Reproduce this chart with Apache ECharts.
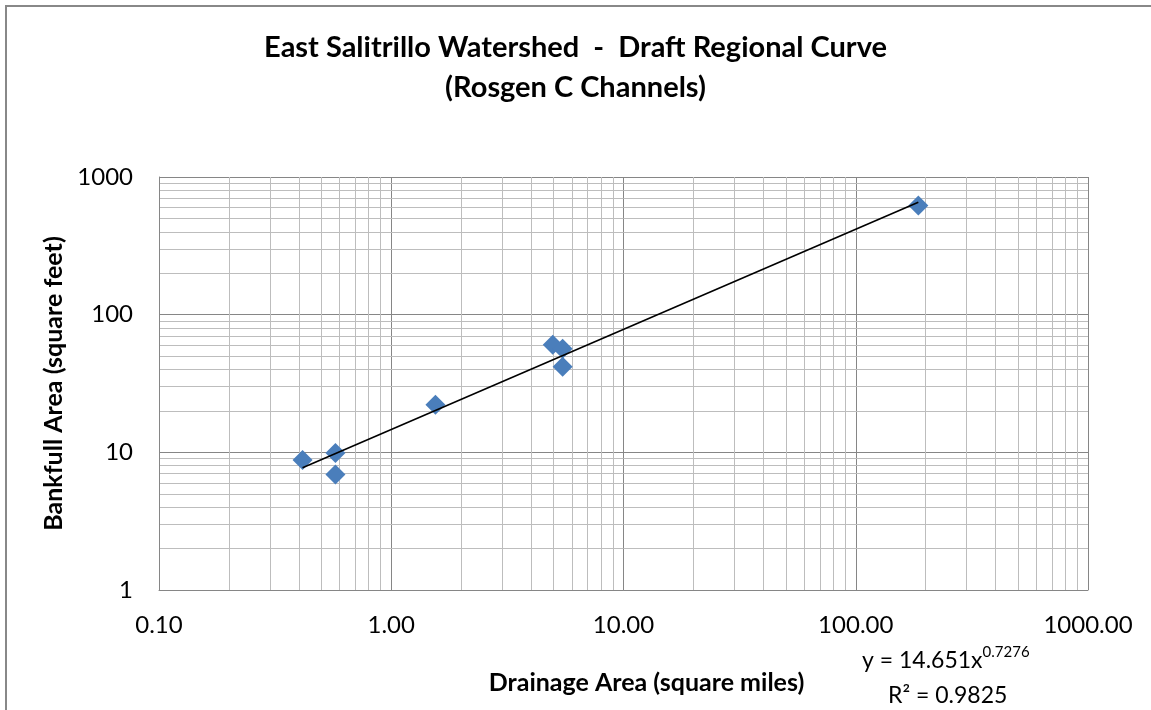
<!DOCTYPE html>
<html>
<head>
<meta charset="utf-8">
<title>East Salitrillo Watershed - Draft Regional Curve</title>
<script src="https://cdn.jsdelivr.net/npm/echarts@6/dist/echarts.min.js"></script>
<style>
  html, body { margin: 0; padding: 0; background: #ffffff; }
  #chart { width: 1151px; height: 710px; }
</style>
</head>
<body>
<div id="chart"></div>
<script>
// Surveyed sites: drainage area (sq mi) and bankfull cross-section area (sq ft)
var drainageArea = [0.415, 0.575, 0.575, 1.55, 4.96, 5.47, 5.47, 186];
var bankfullArea = [8.8, 9.9, 6.9, 22.2, 60.5, 56.6, 41.9, 621];

// Power-law fit y = a * x^b and its goodness of fit
var fitCoef = 14.651;
var fitExp = 0.7276;
var fitR2 = 0.9825;

// Axis decades and minor gridline multipliers (2..9 within each decade)
var xDecades = [0.1, 1, 10, 100];
var yDecades = [1, 10, 100];
var minorSteps = [2, 3, 4, 5, 6, 7, 8, 9];

var FONT = 'Lato, "Open Sans", "Liberation Sans", sans-serif';

var points = drainageArea.map(function (x, i) { return [x, bankfullArea[i]]; });

// Trendline spans the range of the data
var xLo = Math.min.apply(null, drainageArea);
var xHi = Math.max.apply(null, drainageArea);
var trend = [
  [xLo, fitCoef * Math.pow(xLo, fitExp)],
  [xHi, fitCoef * Math.pow(xHi, fitExp)]
];

// Minor gridlines as mark lines on the log axes
var minorLines = [];
xDecades.forEach(function (d) {
  minorSteps.forEach(function (m) { minorLines.push({ xAxis: d * m }); });
});
yDecades.forEach(function (d) {
  minorSteps.forEach(function (m) { minorLines.push({ yAxis: d * m }); });
});

var chart = echarts.init(document.getElementById('chart'), null, { renderer: 'canvas' });

chart.setOption({
  animation: false,
  backgroundColor: '#ffffff',
  title: {
    text: 'East Salitrillo Watershed  -  Draft Regional Curve\n(Rosgen C Channels)',
    left: 'center',
    top: 23,
    textStyle: {
      fontFamily: FONT,
      fontSize: 29,
      fontWeight: 'bold',
      color: '#000000',
      lineHeight: 40
    }
  },
  grid: { left: 159, right: 63, top: 177, bottom: 120, containLabel: false },
  xAxis: {
    type: 'log',
    logBase: 10,
    min: 0.1,
    max: 1000,
    name: 'Drainage Area (square miles)',
    nameLocation: 'middle',
    nameGap: 80,
    nameTextStyle: {
      fontFamily: FONT, fontSize: 25, fontWeight: 'bold', color: '#000000',
      padding: [0, 0, 0, 46]
    },
    axisLine: { show: true, lineStyle: { color: '#868686', width: 1 } },
    axisTick: { show: false },
    axisLabel: {
      fontFamily: FONT, fontSize: 24, color: '#000000', margin: 23,
      formatter: function (v) { return Number(v).toFixed(2); }
    },
    splitLine: { show: true, lineStyle: { color: '#868686', width: 1 } }
  },
  yAxis: {
    type: 'log',
    logBase: 10,
    min: 1,
    max: 1000,
    name: 'Bankfull Area (square feet)',
    nameLocation: 'middle',
    nameGap: 90,
    nameTextStyle: { fontFamily: FONT, fontSize: 25, fontWeight: 'bold', color: '#000000' },
    axisLine: { show: true, lineStyle: { color: '#868686', width: 1 } },
    axisTick: { show: false },
    axisLabel: {
      fontFamily: FONT, fontSize: 24, color: '#000000', margin: 26,
      formatter: function (v) { return String(Math.round(v)); }
    },
    splitLine: { show: true, lineStyle: { color: '#868686', width: 1 } }
  },
  series: [
    {
      name: 'grid',
      type: 'line',
      data: [],
      silent: true,
      z: 0,
      markLine: {
        silent: true,
        z: 0,
        symbol: ['none', 'none'],
        label: { show: false },
        lineStyle: { color: '#bdbdbd', width: 1, type: 'solid' },
        data: minorLines,
        animation: false
      }
    },
    {
      name: 'Trend',
      type: 'line',
      data: trend,
      symbol: 'none',
      lineStyle: { color: '#000000', width: 1.6 },
      z: 5
    },
    {
      name: 'Sites',
      type: 'scatter',
      data: points,
      symbol: 'diamond',
      symbolSize: [20, 20],
      itemStyle: { color: '#4a7ebb', opacity: 1, borderWidth: 0 },
      z: 4
    }
  ],
  graphic: [
    {
      type: 'rect',
      shape: { x: 6, y: 6, width: 1200, height: 800 },
      style: { fill: 'none', stroke: '#888888', lineWidth: 2 },
      silent: true
    },
    {
      type: 'text',
      left: 862,
      top: 645,
      style: {
        text: '{b|y = ' + fitCoef + 'x}{s|' + fitExp + '}',
        rich: {
          b: { fontFamily: FONT, fontSize: 23, color: '#000000', verticalAlign: 'bottom' },
          s: { fontFamily: FONT, fontSize: 15, color: '#000000', verticalAlign: 'top', padding: [0, 0, 12, 0] }
        }
      }
    },
    {
      type: 'text',
      left: 888,
      top: 684,
      style: {
        text: 'R\u00B2 = ' + fitR2,
        fontFamily: FONT,
        fontSize: 23,
        fill: '#000000'
      }
    }
  ]
});
</script>
</body>
</html>
